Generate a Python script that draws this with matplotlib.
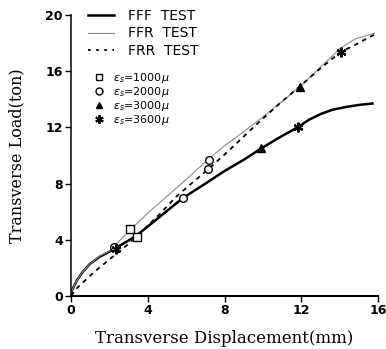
import matplotlib.pyplot as plt
from matplotlib.lines import Line2D

# curves
fff_x = [0, 0.05, 0.3, 0.6, 1.0, 1.5, 2.0, 2.5, 3.0, 3.5, 4.5, 5.8, 7.0, 8.0, 9.0, 9.9, 11.0, 11.8, 12.4, 13.0, 13.6, 14.3, 15.0, 15.7]
fff_y = [0, 0.4, 1.1, 1.7, 2.3, 2.8, 3.15, 3.55, 3.95, 4.4, 5.5, 6.95, 8.0, 8.9, 9.7, 10.5, 11.4, 12.0, 12.55, 12.95, 13.25, 13.45, 13.6, 13.7]

ffr_x = [0, 0.05, 0.3, 0.6, 1.0, 1.5, 2.0, 3.0, 4.0, 5.0, 6.0, 7.2, 8.0, 9.0, 10.0, 11.0, 12.0, 13.0, 14.0, 14.8, 15.8]
ffr_y = [0, 0.4, 1.1, 1.7, 2.3, 2.85, 3.2, 4.6, 5.9, 7.1, 8.3, 9.8, 10.7, 11.7, 12.75, 13.85, 15.0, 16.3, 17.6, 18.3, 18.7]

frr_x = [0, 0.3, 1.16, 2.0, 2.9, 3.41, 4.6, 5.5, 6.35, 7.13, 8.26, 9.65, 10.86, 11.9, 12.9, 14.06, 14.7, 15.5, 15.8]
frr_y = [0, 0.55, 1.65, 2.6, 3.6, 4.22, 5.8, 7.1, 8.1, 9.0, 10.4, 12.2, 13.7, 14.9, 16.1, 17.4, 17.8, 18.4, 18.6]

# strain gauge points
sq_x = [3.06, 3.41]
sq_y = [4.74, 4.22]
ci_x = [2.25, 5.84, 7.19, 7.13]
ci_y = [3.45, 6.95, 9.68, 9.02]
tr_x = [9.9, 11.9]
tr_y = [10.5, 14.9]
st_x = [2.35, 11.8, 14.06]
st_y = [3.35, 12.0, 17.4]

line_labels = ['FFF  TEST', 'FFR  TEST', 'FRR  TEST']
marker_labels = [r'$\epsilon_s$=1000$\mu$', r'$\epsilon_s$=2000$\mu$',
                 r'$\epsilon_s$=3000$\mu$', r'$\epsilon_s$=3600$\mu$']

fig = plt.figure(figsize=(3.86, 3.49), dpi=100)
ax = fig.add_axes([0.184, 0.152, 0.796, 0.805])

ax.plot(fff_x, fff_y, color='black', lw=1.8)
ax.plot(ffr_x, ffr_y, color='#8a8a8a', lw=0.8)
ax.plot(frr_x, frr_y, color='black', lw=1.3, linestyle=(0, (2.5, 2.5)))

ax.plot(sq_x, sq_y, 's', ms=6, mfc='white', mec='black', mew=1.0)
ax.plot(ci_x, ci_y, 'o', ms=5.5, mfc='white', mec='black', mew=1.0)
ax.plot(tr_x, tr_y, '^', ms=6, color='black')
ax.plot(st_x, st_y, marker=(6, 2, 0), ls='none', ms=7, mec='black', mew=1.6)

ax.set_xlim(0, 16)
ax.set_ylim(0, 20)
ax.set_xticks([0, 4, 8, 12, 16])
ax.set_yticks([0, 4, 8, 12, 16, 20])
ax.spines['top'].set_visible(False)
ax.spines['right'].set_visible(False)
ax.spines['left'].set_linewidth(1.1)
ax.spines['bottom'].set_linewidth(1.5)
ax.tick_params(direction='out', length=4, width=1, labelsize=9, pad=2)
for lab in ax.get_xticklabels() + ax.get_yticklabels():
    lab.set_fontweight('bold')

ax.set_xlabel('Transverse Displacement(mm)', family='DejaVu Serif', fontsize=12, labelpad=9)
ax.set_ylabel('Transverse Load(ton)', family='DejaVu Serif', fontsize=11.5, labelpad=14)

h1 = [Line2D([], [], color='black', lw=1.8),
      Line2D([], [], color='#8a8a8a', lw=0.8),
      Line2D([], [], color='black', lw=1.3, linestyle=(0, (1.5, 3)))]
leg1 = fig.legend(h1, line_labels, loc='upper left', bbox_to_anchor=(88 / 386, 1 - 9 / 349),
                  frameon=False, fontsize=10, handlelength=1.9, handletextpad=1.0,
                  labelspacing=0.25, borderpad=0, borderaxespad=0)

h2 = [Line2D([], [], ls='none', marker='s', ms=5, mfc='white', mec='black'),
      Line2D([], [], ls='none', marker='o', ms=5, mfc='white', mec='black'),
      Line2D([], [], ls='none', marker='^', ms=5, color='black'),
      Line2D([], [], ls='none', marker=(6, 2, 0), ms=6, mec='black', mew=1.5)]
leg2 = fig.legend(h2, marker_labels, loc='upper left', bbox_to_anchor=(93 / 386, 1 - 71 / 349),
                  frameon=False, fontsize=8, handlelength=1.0, handletextpad=0.8,
                  labelspacing=0.0, borderpad=0, borderaxespad=0)

fig.savefig('out.png', dpi=100)
